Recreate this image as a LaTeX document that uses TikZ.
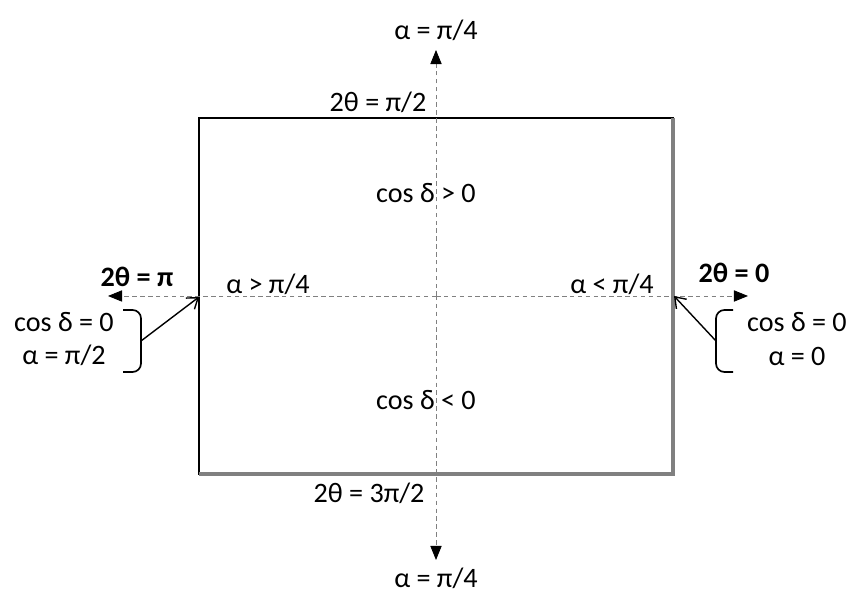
\documentclass[tikz,border=0pt]{standalone}
\usepackage{fontspec}
\setmainfont{Carlito}
\usetikzlibrary{arrows.meta,positioning}

\begin{document}
\begin{tikzpicture}[x=0.0125cm, y=-0.0125cm,
  lbl/.style={font=\fontsize{10}{12}\selectfont, inner sep=1pt},
  blbl/.style={lbl, font=\fontsize{10}{12}\selectfont\bfseries},
  axis/.style={gray, line width=0.3pt, dash pattern=on 1.6pt off 1.2pt,
    -{Triangle[length=5pt, width=4pt, color=black]}},
  ptr/.style={-{Straight Barb[length=3.5pt, width=5pt]}, line width=0.5pt},
  brc/.style={rounded corners=3pt, line width=0.6pt}
]
\useasboundingbox (0,0) rectangle (855,594);

% frame and axes
\coordinate (nw) at (199,118);
\coordinate (se) at (673,474);
\coordinate (c) at (436,296);
\coordinate (up) at (436,50);
\coordinate (dn) at (436,560);
\coordinate (lt) at (108,296);
\coordinate (rt) at (748,296);
\draw[line width=0.5pt] (nw) rectangle (se);
\draw[gray, line width=1.1pt] (673,118) -- (se) -- (199,474);
\draw[axis] (c) -- (up);
\draw[axis] (c) -- (dn);
\draw[axis] (c) -- (lt);
\draw[axis] (c) -- (rt);

% labels
\node[lbl] (atop) at (436,30) {α = π/4};
\node[lbl] (abot) at (436,578) {α = π/4};
\node[lbl] (thtop) at (378,102) {2θ = π/2};
\node[lbl] (thbot) at (369,493) {2θ = 3π/2};
\node[blbl] (thl) at (137,277) {2θ = π};
\node[blbl] (thr) at (734,273) {2θ = 0};
\node[lbl] (agt) at (268,284) {α > π/4};
\node[lbl] (alt) at (612,284) {α < π/4};
\node[lbl] (cpos) at (426,193) {cos δ > 0};
\node[lbl] (cneg) at (426,400) {cos δ < 0};
\node[lbl, align=center] (condl) at (64,339) {cos δ = 0\\α = π/2};
\node[lbl, align=center] (condr) at (797,339) {cos δ = 0\\α = 0};

% brackets and pointers
\draw[brc] (123,310) -- (141,310) -- (141,372) -- (123,372);
\draw[brc] (733,310) -- (716,310) -- (716,372) -- (733,372);
\coordinate (lb) at (141,341);
\coordinate (rb) at (716,341);
\coordinate (lp) at (199,297);
\coordinate (rp) at (674,296);
\draw[ptr] (lb) -- (lp);
\draw[ptr] (rb) -- (rp);
\end{tikzpicture}
\end{document}
